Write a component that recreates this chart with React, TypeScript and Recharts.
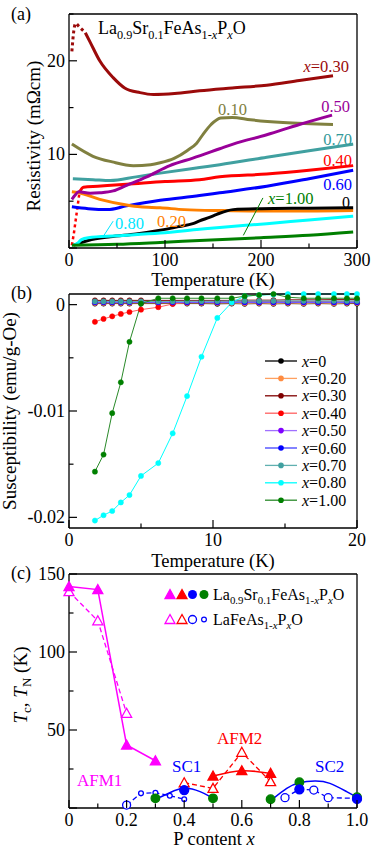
import React from 'react';
import { LineChart, Line, XAxis, YAxis, ReferenceLine } from 'recharts';

const FONT = 'Liberation Serif, Times New Roman, DejaVu Serif, serif';

// ---------- (a) resistivity, [T (K), rho (mOhm cm)]
const rho030Low = [[3, 21.0], [5, 23.2], [7, 24.0], [10, 23.7], [14, 23.3], [17, 23.0]];
const rho030 = [[17, 23.0], [22, 22.0], [32, 20.0], [46, 18.2], [58, 17.1], [74, 16.6], [88, 16.4], [110, 16.5], [136, 16.8], [170, 17.1], [206, 17.4], [240, 17.9], [275, 18.4]];
const rho010 = [[3, 11.1], [25, 9.8], [45, 9.2], [67, 8.8], [85, 8.9], [95, 9.1], [110, 9.6], [123, 10.4], [133, 11.2], [140, 12.2], [148, 13.2], [158, 13.9], [170, 13.95], [189, 13.7], [223, 13.4], [275, 13.2]];
const rho050 = [[3, 5.2], [6, 5.6], [10, 6.0], [22, 5.85], [32, 5.9], [46, 6.1], [60, 6.7], [81, 7.6], [105, 8.8], [129, 9.6], [157, 10.6], [171, 11.1], [206, 12.1], [240, 13.2], [274, 14.2]];
const rho070 = [[4, 7.4], [25, 7.3], [43, 7.2], [70, 7.6], [95, 8.0], [136, 8.6], [157, 8.9], [206, 9.7], [250, 10.4], [296, 11.1]];
const rho040Low = [[3, 0.3], [5, 1.5], [7, 3.0], [9, 4.5], [11, 6.0]];
const rho040 = [[11, 6.0], [15, 6.5], [30, 6.6], [60, 6.8], [100, 7.1], [136, 7.3], [157, 7.6], [206, 7.9], [250, 8.3], [296, 8.8]];
const rho060 = [[3, 4.4], [20, 4.2], [40, 4.1], [60, 4.5], [95, 5.1], [136, 5.6], [157, 5.9], [206, 6.6], [250, 7.4], [296, 8.3]];
const rho020 = [[3, 6.0], [10, 5.9], [32, 5.2], [60, 4.6], [74, 4.4], [95, 4.3], [120, 4.1], [160, 4.0], [200, 3.95], [250, 3.95], [296, 4.0]];
const rho000 = [[5, 0.3], [20, 0.8], [43, 1.2], [70, 1.5], [95, 1.9], [115, 2.3], [129, 2.6], [136, 2.9], [147, 3.3], [154, 3.6], [171, 4.1], [200, 4.2], [250, 4.25], [296, 4.3]];
const rho080 = [[5, 0.3], [9, 0.5], [13, 0.9], [20, 1.1], [50, 1.3], [95, 1.6], [136, 2.0], [157, 2.2], [206, 2.6], [250, 3.0], [296, 3.4]];
const rho100 = [[3, 0.3], [50, 0.4], [95, 0.6], [136, 0.8], [200, 1.1], [250, 1.35], [296, 1.7]];

// ---------- (b) susceptibility (emu/g-Oe) on a common temperature grid
const chiT = [1.8, 2.4, 3.0, 3.6, 4.2, 5.0, 6.2, 7.2, 8.2, 9.2, 10.3, 11.3, 12.2, 13.2, 14.2, 15.2, 16.3, 17.3, 18.4, 19.3, 20.0];
const chi000 = [0.0001, 0.0001, 0.0001, 0.0001, 0.0001, 0.0001, 0.0001, 0.0001, 0.0001, 0.0001, 0.00008, 0.0001, 0.00008, 0.0001, 0.00008, 0.0001, 0.00008, 0.0001, 0.00008, 0.0001, 0.0001];
const chi020 = [0.00015, 0.00015, 0.00015, 0.00015, 0.00015, 0.00015, 0.00015, 0.00015, 0.00015, 0.00015, 0.00015, 0.00015, 0.00012, 0.00015, 0.00012, 0.00015, 0.00012, 0.00015, 0.00012, 0.00015, 0.00015];
const chi030 = [0.0004, 0.0004, 0.0004, 0.0004, 0.0004, 0.0004, 0.0004, 0.0004, 0.0004, 0.0004, 0.0004, 0.0004, 0.00042, 0.00042, 0.00042, 0.00045, 0.00045, 0.00045, 0.00047, 0.00047, 0.00047];
const chi040 = [-0.00162, -0.00134, -0.0011, -0.00087, -0.00069, -0.00047, -0.00024, 0.00006, 0.0002, 0.00022, 0.00025, 0.00027, 0.00028, 0.0003, 0.0003, 0.0003, 0.0003, 0.0003, 0.00032, 0.00032, 0.00033];
const chi050 = [0.0002, 0.0002, 0.0002, 0.0002, 0.0002, 0.0002, 0.0002, 0.0002, 0.0002, 0.0002, 0.0002, 0.0002, 0.0002, 0.0002, 0.0002, 0.0002, 0.0002, 0.0002, 0.0002, 0.0002, 0.0002];
const chi060 = [0.00025, 0.00025, 0.00025, 0.00025, 0.00025, 0.00025, 0.00025, 0.00025, 0.00025, 0.00025, 0.00025, 0.00025, 0.00025, 0.00025, 0.00025, 0.00025, 0.00025, 0.00025, 0.00025, 0.00025, 0.00025];
const chi070 = [0.0003, 0.0003, 0.0003, 0.0003, 0.0003, 0.0003, 0.0003, 0.0003, 0.00032, 0.00032, 0.00032, 0.00035, 0.00035, 0.00035, 0.00035, 0.00035, 0.00035, 0.00035, 0.00035, 0.00035, 0.00035];
const chi080 = [-0.0203, -0.0198, -0.0194, -0.0186, -0.0179, -0.0161, -0.0149, -0.0121, -0.0086, -0.0049, -0.00125, 0.0002, 0.0008, 0.0009, 0.00095, 0.001, 0.001, 0.001, 0.001, 0.001, 0.001];
const chi100 = [-0.0157, -0.0141, -0.0102, -0.0073, -0.0035, 0.0001, 0.0006, 0.0006, 0.0006, 0.0006, 0.0006, 0.0006, 0.0008, 0.0009, 0.001, 0.0007, 0.0006, 0.0006, 0.0006, 0.0006, 0.0006];

// ---------- (c) phase diagram, [P content x, T (K)]
const afm1Sr = [[0, 142], [0.1, 140], [0.2, 40.4], [0.3, 30.3]];
const afm1La = [[0, 138.7], [0.1, 120], [0.2, 60.7]];
const afm2Sr = [[0.5, 20.5], [0.6, 23.9], [0.7, 22.2]];
const afm2La = [[0.4, 16.2], [0.5, 12.6], [0.6, 35.7], [0.7, 16.9]];
const scSrBlue = [[0.4, 11.5], [0.8, 12.0], [1.0, 5.8]];
const scSrGreen = [[0.3, 6.2], [0.5, 6.2], [0.7, 5.6], [0.8, 16.5], [1.0, 6.9]];
const scDome1 = [[0.316, 6.9], [0.35, 9.8], [0.4, 12.6], [0.455, 10.5], [0.49, 7.3]];
const scDome2 = [[0.71, 6.2], [0.756, 12.6], [0.8, 16.2], [0.854, 17.3], [0.906, 15.8], [0.964, 10.5], [1.0, 6.9]];
const scLaBig = [[0.2, 1.9], [0.75, 6.6], [0.8, 12.0], [0.85, 11.5], [0.9, 6.6], [1.0, 6.2]];
const scLaSmall = [[0.25, 9.4], [0.3, 9.8], [0.35, 7.9], [0.4, 5.6]];

const pts = (arr: number[][]) => arr.map(([x, y]) => ({ x, y }));

const resSeries = [
  { c: '#808040', d: rho010 },
  { c: '#9b0a0a', d: rho030 },
  { c: '#40a0a0', d: rho070 },
  { c: '#ff0000', d: rho040 },
  { c: '#0000ff', d: rho060 },
  { c: '#ff8000', d: rho020 },
  { c: '#000000', d: rho000 },
  { c: '#00ffff', d: rho080 },
  { c: '#007f00', d: rho100 },
  { c: '#990099', d: rho050 },
];

const chiSeries = [
  { name: '0', dot: '#000000', line: '#000000', v: chi000 },
  { name: '0.20', dot: '#ff8c40', line: '#ffa060', v: chi020 },
  { name: '0.30', dot: '#800000', line: '#800000', v: chi030 },
  { name: '0.40', dot: '#ff0000', line: '#ff6060', v: chi040 },
  { name: '0.50', dot: '#8000ff', line: '#a070ff', v: chi050 },
  { name: '0.60', dot: '#0000ff', line: '#4040ff', v: chi060 },
  { name: '0.70', dot: '#40a0a0', line: '#60b0b0', v: chi070 },
  { name: '0.80', dot: '#00ffff', line: '#00ffff', v: chi080 },
  { name: '1.00', dot: '#008000', line: '#2a8a2a', v: chi100 },
];

const txtStyle = { fontFamily: FONT };

const mkTick = (side: string, major: number[], label?: (v: number) => string | null) => (p: any) => {
  const v = p.payload.value;
  const big = major.some((m) => Math.abs(m - v) < 1e-9);
  const len = big ? 8 : 4.5;
  const { x, y } = p;
  let ln = [x, y, x - len, y];
  if (side === 'bottom') ln = [x, y, x, y - len];
  else if (side === 'top') ln = [x, y, x, y + len];
  else if (side === 'left') ln = [x, y, x + len, y];
  const txt = big && label ? label(v) : null;
  return (
    <g key={`${side}${v}`}>
      <line x1={ln[0]} y1={ln[1]} x2={ln[2]} y2={ln[3]} stroke="#000" strokeWidth={1.2} />
      {txt != null && side === 'bottom' && (
        <text x={x} y={y + 17.5} textAnchor="middle" fontSize={18} style={txtStyle} fill="#000" stroke="none">{txt}</text>
      )}
      {txt != null && side === 'left' && (
        <text x={x - 4} y={y + 6} textAnchor="end" fontSize={18} style={txtStyle} fill="#000" stroke="none">{txt}</text>
      )}
    </g>
  );
};

// frame: bottom/top/left/right axes, each 1px thick so the plot box sits on the margins + 1
function frame(xDom: number[], xTicks: number[], xMajor: number[], xLab: (v: number) => string | null,
  yDom: number[], yTicks: number[], yMajor: number[], yLab: (v: number) => string | null) {
  const ax = { stroke: '#000', strokeWidth: 1.3 };
  const common = { type: 'number' as const, interval: 0, tickSize: 0, tickMargin: 0, axisLine: ax, tickLine: false };
  return [
    <XAxis key="xb" xAxisId={0} dataKey="x" domain={xDom} ticks={xTicks} height={1} tick={mkTick('bottom', xMajor, xLab)} {...common} />,
    <XAxis key="xt" xAxisId="top" orientation="top" dataKey="x" domain={xDom} ticks={xTicks} height={1} tick={mkTick('top', xMajor)} {...common} />,
    <YAxis key="yl" yAxisId={0} dataKey="y" domain={yDom} ticks={yTicks} width={1} tick={mkTick('left', yMajor, yLab)} {...common} />,
    <YAxis key="yr" yAxisId="right" orientation="right" dataKey="y" domain={yDom} ticks={yTicks} width={1} tick={mkTick('right', yMajor)} {...common} />,
  ];
}

const triPath = (cx: number, cy: number) => `M${cx},${cy - 5} L${cx + 5},${cy + 4} L${cx - 5},${cy + 4} Z`;

const triDot = (color: string, filled: boolean) => (p: any) => (
  <path key={`t${p.index}`} d={triPath(p.cx, p.cy)} fill={filled ? color : '#fff'} stroke={color} strokeWidth={1.3} />
);
const circDot = (color: string, filled: boolean, r: number) => (p: any) => (
  <circle key={`c${p.index}`} cx={p.cx} cy={p.cy} r={r} fill={filled ? color : '#fff'} stroke={color} strokeWidth={1.3} />
);

function Formula({ x, y, size, sr }: { x: number; y: number; size: number; sr: boolean }) {
  const s = size * 0.68;
  const d = size * 0.25;
  return (
    <text x={x} y={y} fontSize={size} fill="#000" style={txtStyle}>
      <tspan>La</tspan>
      {sr && <tspan fontSize={s} dy={d}>0.9</tspan>}
      {sr && <tspan dy={-d}>Sr</tspan>}
      {sr && <tspan fontSize={s} dy={d}>0.1</tspan>}
      <tspan dy={sr ? -d : 0}>FeAs</tspan>
      <tspan fontSize={s} dy={d}>1-</tspan>
      <tspan fontSize={s} fontStyle="italic">x</tspan>
      <tspan dy={-d}>P</tspan>
      <tspan fontSize={s} dy={d} fontStyle="italic">x</tspan>
      <tspan dy={-d}>O</tspan>
    </text>
  );
}

function Overlay() {
  const legY = (i: number) => 361 + i * 17.4;
  return (
    <svg width={374} height={851} style={{ position: 'absolute', left: 0, top: 0, pointerEvents: 'none', fontFamily: FONT }}>
      <g fill="#000" fontFamily={FONT}>
        {/* panel letters */}
        <text x={11} y={20} fontSize={18}>(a)</text>
        <text x={11} y={299} fontSize={18}>(b)</text>
        <text x={11} y={579} fontSize={18}>(c)</text>

        {/* axis titles */}
        <text x={213} y={286} fontSize={18.5} textAnchor="middle">Temperature (K)</text>
        <text x={213} y={567} fontSize={18.5} textAnchor="middle">Temperature (K)</text>
        <text x={214} y={845} fontSize={18.5} textAnchor="middle">P content <tspan fontStyle="italic">x</tspan></text>
        <text transform="translate(40,136) rotate(-90)" fontSize={19} textAnchor="middle">Resistivity (mΩcm)</text>
        <text transform="translate(16,411) rotate(-90)" fontSize={19} textAnchor="middle">Susceptibility (emu/g-Oe)</text>
        <text transform="translate(27,685) rotate(-90)" fontSize={19} textAnchor="middle">
          <tspan fontStyle="italic">T</tspan><tspan fontSize={13} dy={4}>c</tspan><tspan dy={-4}>, </tspan>
          <tspan fontStyle="italic">T</tspan><tspan fontSize={13} dy={4}>N</tspan><tspan dy={-4}> (K)</tspan>
        </text>

        {/* (a) labels */}
        <Formula x={98} y={34} size={18} sr />
        <text x={349} y={72} fontSize={16.5} textAnchor="end" fill="#9b0a0a"><tspan fontStyle="italic">x</tspan>=0.30</text>
        <text x={218} y={115} fontSize={16.5} fill="#808040">0.10</text>
        <text x={350} y={112} fontSize={16.5} textAnchor="end" fill="#990099">0.50</text>
        <text x={352} y={145} fontSize={16.5} textAnchor="end" fill="#339999">0.70</text>
        <text x={352} y={166} fontSize={16.5} textAnchor="end" fill="#ff0000">0.40</text>
        <text x={352} y={190} fontSize={16.5} textAnchor="end" fill="#0000ff">0.60</text>
        <text x={350} y={208} fontSize={16} textAnchor="end" fill="#000">0</text>
        <text x={268} y={204} fontSize={16.5} fill="#007f00"><tspan fontStyle="italic">x</tspan>=1.00</text>
        <text x={115} y={229} fontSize={16.5} fill="#00e5ff">0.80</text>
        <text x={157} y={227} fontSize={16.5} fill="#ff8000">0.20</text>

        {/* (b) legend */}
        {chiSeries.map((s, i) => (
          <g key={s.name}>
            <line x1={265} x2={297} y1={legY(i)} y2={legY(i)} stroke={s.line} strokeWidth={1.3} />
            <circle cx={281} cy={legY(i)} r={2.8} fill={s.dot} />
            <text x={302} y={legY(i) + 5.5} fontSize={16}><tspan fontStyle="italic">x</tspan>={s.name}</text>
          </g>
        ))}

        {/* (c) legend */}
        <path d={triPath(170, 594.5)} fill="#ff00ff" stroke="#ff00ff" strokeWidth={1.3} />
        <path d={triPath(182, 594.5)} fill="#ff0000" stroke="#ff0000" strokeWidth={1.3} />
        <circle cx={192.5} cy={594.5} r={4.5} fill="#0000ff" />
        <circle cx={204} cy={594.5} r={4.5} fill="#008000" />
        <Formula x={213} y={600} size={16} sr />
        <path d={triPath(170, 619.5)} fill="#fff" stroke="#ff00ff" strokeWidth={1.3} />
        <path d={triPath(182, 619.5)} fill="#fff" stroke="#ff0000" strokeWidth={1.3} />
        <circle cx={192.5} cy={619.5} r={4} fill="#fff" stroke="#0000ff" strokeWidth={1.3} />
        <circle cx={204} cy={619.5} r={2.4} fill="#fff" stroke="#0000ff" strokeWidth={1.2} />
        <Formula x={213} y={625} size={16} sr={false} />

        {/* (c) region labels */}
        <text x={77} y={786} fontSize={17} fill="#ff00ff">AFM1</text>
        <text x={172} y={771.5} fontSize={17} fill="#0000ff">SC1</text>
        <text x={217} y={744} fontSize={17} fill="#ff0000">AFM2</text>
        <text x={315} y={771.5} fontSize={17} fill="#0000ff">SC2</text>
      </g>
    </svg>
  );
}

const lab = (v: number) => String(v);

export default function App() {
  const laDash1 = pts([...scLaBig, ...scLaSmall].filter((p) => p[0] < 0.5).sort((a, b) => a[0] - b[0]));
  const laDash2 = pts(scLaBig.filter((p) => p[0] > 0.5));
  return (
    <div style={{ position: 'absolute', left: 0, top: 0, width: 374, height: 851, background: '#fff', fontFamily: FONT }}>
      {/* (a) resistivity */}
      <div style={{ position: 'absolute', left: 0, top: 0 }}>
        <LineChart width={374} height={290} margin={{ top: 13, right: 16, bottom: 41, left: 68 }}>
          {frame([0, 300], [0, 50, 100, 150, 200, 250, 300], [0, 100, 200, 300], lab,
            [0, 25], [0, 5, 10, 15, 20, 25], [0, 10, 20], (v) => (v === 10 || v === 20 ? String(v) : null))}
          <Line data={pts(rho030Low)} dataKey="y" type="monotone" stroke="#9b0a0a" strokeWidth={3} strokeDasharray="3 3" dot={false} isAnimationActive={false} />
          <Line data={pts(rho040Low)} dataKey="y" type="linear" stroke="#ff0000" strokeWidth={2.5} strokeDasharray="3 3" dot={false} isAnimationActive={false} />
          {resSeries.map((s, i) => (
            <Line key={i} data={pts(s.d)} dataKey="y" type="monotone" stroke={s.c} strokeWidth={3} dot={false} isAnimationActive={false} />
          ))}
          <ReferenceLine segment={[{ x: 46, y: 2.87 }, { x: 35.7, y: 1.24 }]} stroke="#00e5ff" strokeWidth={1} />
          <ReferenceLine segment={[{ x: 202, y: 5.35 }, { x: 181.6, y: 1.35 }]} stroke="#007f00" strokeWidth={1} />
        </LineChart>
      </div>

      {/* (b) susceptibility */}
      <div style={{ position: 'absolute', left: 0, top: 290 }}>
        <LineChart width={374} height={270} margin={{ top: 3, right: 16, bottom: 31, left: 68 }}>
          {frame([0, 20], [0, 5, 10, 15, 20], [0, 10, 20], lab,
            [-0.021, 0.001], [-0.02, -0.015, -0.01, -0.005, 0], [-0.02, -0.01, 0], (v) => (v === 0 ? '0' : String(v)))}
          {chiSeries.map((s) => (
            <Line key={s.name} data={chiT.map((t, i) => ({ x: t, y: s.v[i] }))} dataKey="y" type="linear" stroke={s.line} strokeWidth={1}
              dot={{ r: 2.6, fill: s.dot, stroke: s.dot, strokeWidth: 0.5 }} activeDot={false} isAnimationActive={false} />
          ))}
        </LineChart>
      </div>

      {/* (c) phase diagram */}
      <div style={{ position: 'absolute', left: 0, top: 560 }}>
        <LineChart width={374} height={291} margin={{ top: 13, right: 16, bottom: 42, left: 68 }}>
          {frame([0, 1], [0, 0.1, 0.2, 0.3, 0.4, 0.5, 0.6, 0.7, 0.8, 0.9, 1.0], [0, 0.2, 0.4, 0.6, 0.8, 1.0], (v) => (v === 0 ? '0' : v.toFixed(1)),
            [0, 150], [0, 25, 50, 75, 100, 125, 150], [0, 50, 100, 150], (v) => (v === 0 ? null : String(v)))}
          <Line data={laDash1} dataKey="y" type="linear" stroke="#0000ff" strokeWidth={1.3} strokeDasharray="5 3" dot={false} isAnimationActive={false} />
          <Line data={laDash2} dataKey="y" type="linear" stroke="#0000ff" strokeWidth={1.3} strokeDasharray="5 3" dot={false} isAnimationActive={false} />
          <Line data={pts(scDome1)} dataKey="y" type="natural" stroke="#0000ff" strokeWidth={1.5} dot={false} isAnimationActive={false} />
          <Line data={pts(scDome2)} dataKey="y" type="natural" stroke="#0000ff" strokeWidth={1.5} dot={false} isAnimationActive={false} />
          <Line data={pts(afm1La)} dataKey="y" type="linear" stroke="#ff00ff" strokeWidth={1.3} strokeDasharray="5 3" dot={triDot('#ff00ff', false)} activeDot={false} isAnimationActive={false} />
          <Line data={pts(afm1Sr)} dataKey="y" type="linear" stroke="#ff00ff" strokeWidth={1.5} dot={triDot('#ff00ff', true)} activeDot={false} isAnimationActive={false} />
          <Line data={pts(afm2La)} dataKey="y" type="linear" stroke="#ff0000" strokeWidth={1.3} strokeDasharray="5 3" dot={triDot('#ff0000', false)} activeDot={false} isAnimationActive={false} />
          <Line data={pts(afm2Sr)} dataKey="y" type="natural" stroke="#ff0000" strokeWidth={1.5} dot={triDot('#ff0000', true)} activeDot={false} isAnimationActive={false} />
          <Line data={pts(scLaBig)} dataKey="y" stroke="none" dot={circDot('#0000ff', false, 4)} activeDot={false} isAnimationActive={false} />
          <Line data={pts(scLaSmall)} dataKey="y" stroke="none" dot={circDot('#0000ff', false, 2.4)} activeDot={false} isAnimationActive={false} />
          <Line data={pts(scSrGreen)} dataKey="y" stroke="none" dot={circDot('#008000', true, 4.3)} activeDot={false} isAnimationActive={false} />
          <Line data={pts(scSrBlue)} dataKey="y" stroke="none" dot={circDot('#0000ff', true, 4.5)} activeDot={false} isAnimationActive={false} />
        </LineChart>
      </div>

      <Overlay />
    </div>
  );
}
